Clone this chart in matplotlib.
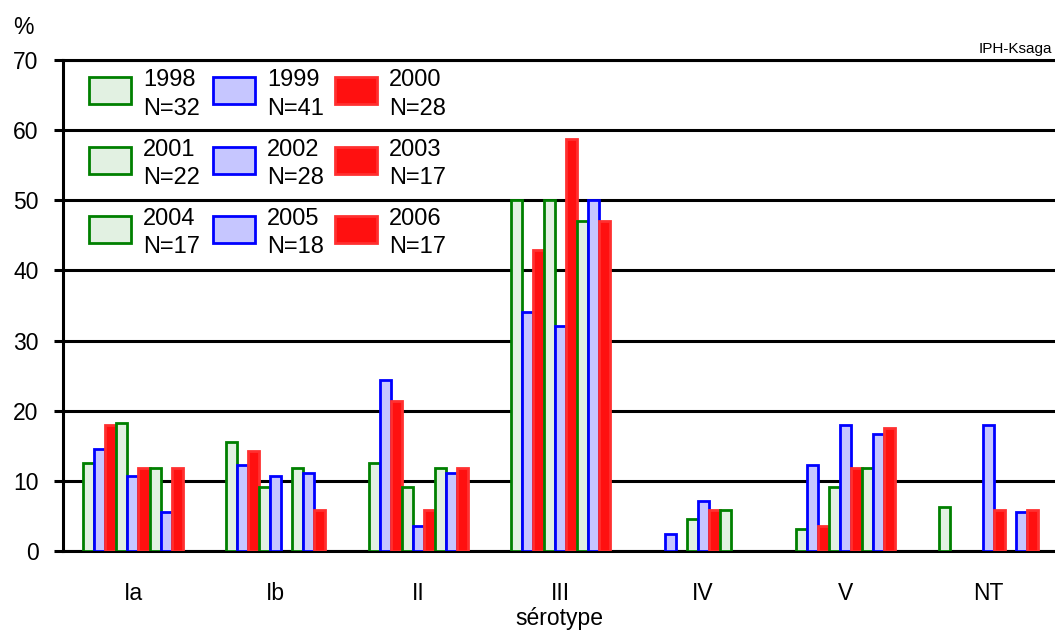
import matplotlib.pyplot as plt
import numpy as np

plt.rcParams['font.family'] = ['Liberation Sans', 'DejaVu Sans']

serotypes = ['Ia', 'Ib', 'II', 'III', 'IV', 'V', 'NT']
years = ['1998', '1999', '2000', '2001', '2002', '2003', '2004', '2005', '2006']
counts = ['N=32', 'N=41', 'N=28', 'N=22', 'N=28', 'N=17', 'N=17', 'N=18', 'N=17']

# % per serotype, one list per year
y1998 = [12.5, 15.6, 12.5, 50.0, 0.0, 3.1, 6.25]
y1999 = [14.6, 12.2, 24.4, 34.1, 2.4, 12.2, 0.0]
y2000 = [17.9, 14.3, 21.4, 42.9, 0.0, 3.6, 0.0]
y2001 = [18.2, 9.1, 9.1, 50.0, 4.5, 9.1, 0.0]
y2002 = [10.7, 10.7, 3.6, 32.1, 7.1, 17.9, 17.9]
y2003 = [11.8, 0.0, 5.9, 58.8, 5.9, 11.8, 5.9]
y2004 = [11.8, 11.8, 11.8, 47.1, 5.9, 11.8, 0.0]
y2005 = [5.6, 11.1, 11.1, 50.0, 0.0, 16.7, 5.6]
y2006 = [11.8, 5.9, 11.8, 47.1, 0.0, 17.6, 5.9]
series = [y1998, y1999, y2000, y2001, y2002, y2003, y2004, y2005, y2006]

# green / blue / red repeating
faces = ['#e2f1e2', '#c6c6ff', '#ff1010']
edges = ['#008000', '#0000ff', '#ff3030']

W, H = 1055, 630
fig = plt.figure(figsize=(W / 100, H / 100), dpi=100)
ax = fig.add_axes([63 / W, (H - 551) / H, 1 - 63 / W, (551 - 60) / H])

x = np.arange(len(serotypes))
bw = 0.0772
for j, vals in enumerate(series):
    vals = np.array(vals)
    keep = vals > 0
    ax.bar(x[keep] + (j - 4) * bw, vals[keep], width=bw,
           facecolor=faces[j % 3], edgecolor=edges[j % 3], linewidth=2.0, zorder=3)

ax.set_ylim(0, 70)
ax.set_xlim(-0.4912, 6.47)
ax.set_yticks(range(0, 71, 10))
ax.set_xticks(x, serotypes)
ax.yaxis.grid(True, color='black', linewidth=2.2)
ax.set_axisbelow(True)
for s in ['left', 'bottom', 'top']:
    ax.spines[s].set_linewidth(2.2)
    ax.spines[s].set_color('black')
ax.spines['right'].set_visible(False)
ax.tick_params(axis='y', length=6.5, width=2.2, pad=11, labelsize=16.5)
ax.tick_params(axis='x', length=0, pad=22, labelsize=16.5)
ax.set_xlabel('sérotype', fontsize=16.5, labelpad=2)

fig.text(23 / W, 1 - 28 / H, '%', fontsize=16.5, ha='center', va='center')
fig.text(1052 / W, 1 - 49 / H, 'IPH-Ksaga', fontsize=11, ha='right', va='center')

# legend, 3 x 3
col_x = [89, 213, 335]
row_y = [90.5, 160, 229]
for j in range(9):
    r, c = j // 3, j % 3
    px, py = col_x[c], row_y[r]
    fig.patches.append(plt.Rectangle((px / W, 1 - (py + 13.5) / H), 42 / W, 27 / H,
                                     transform=fig.transFigure, facecolor=faces[c],
                                     edgecolor=edges[c], linewidth=2.0))
    fig.text((px + 54) / W, 1 - (py + 4) / H, years[j] + '\n' + counts[j], fontsize=17,
             ha='left', va='center', linespacing=1.4)

fig.savefig('out.png', dpi=100)
